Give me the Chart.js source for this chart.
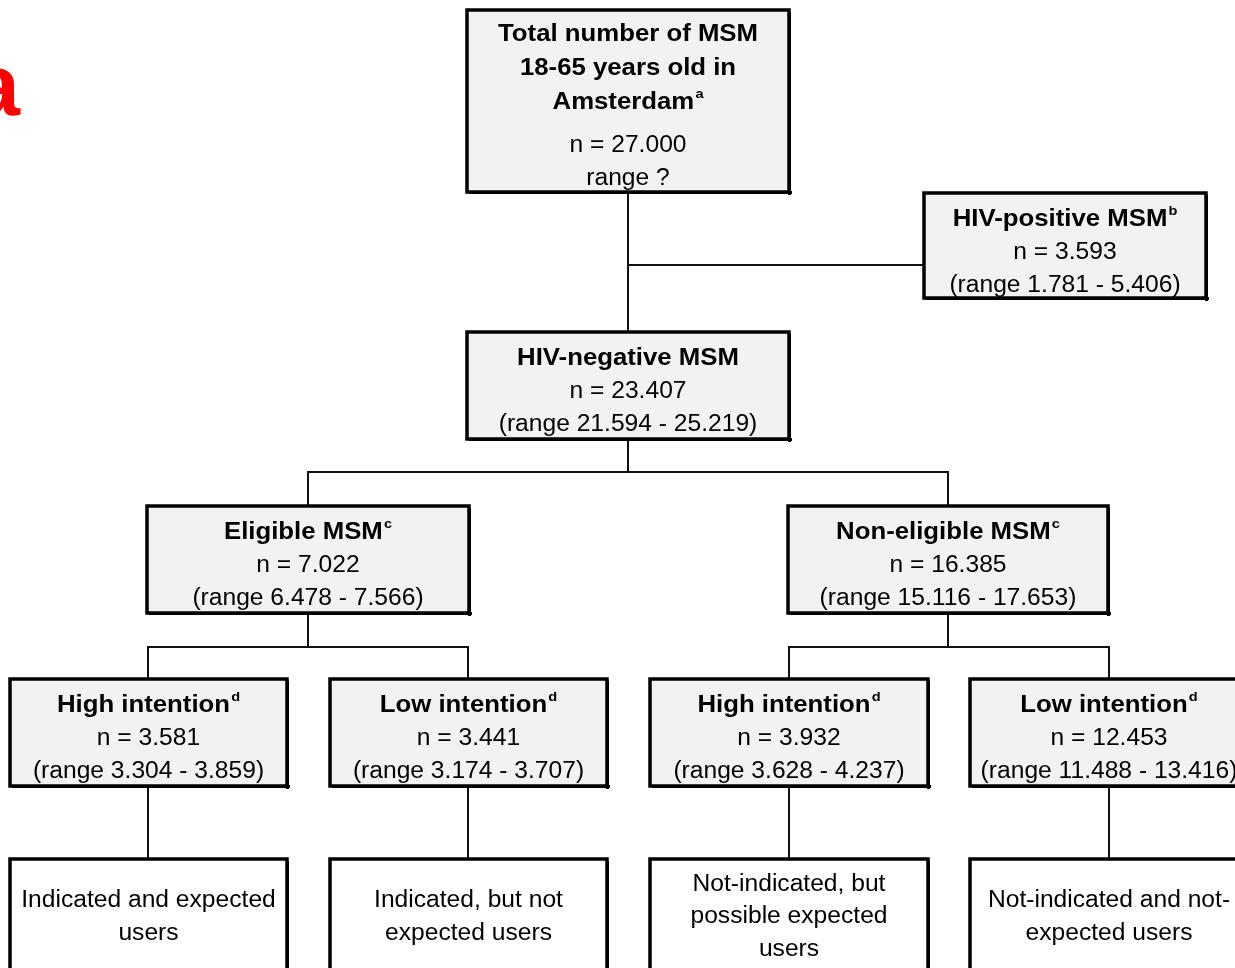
<!DOCTYPE html>
<html>
<head>
<meta charset="utf-8">
<script src="https://cdn.jsdelivr.net/npm/chart.js@4.4.1/dist/chart.umd.min.js"></script>
<style>
html, body { margin: 0; padding: 0; background: #fff; overflow: hidden; }
#wrap { width: 1235px; height: 968px; }
</style>
</head>
<body>
<div id="wrap"><canvas id="flow" width="1235" height="968"></canvas></div>
<script>
// flowchart content
var titles = ["Total number of MSM|18-65 years old in|Amsterdam", "HIV-positive MSM", "HIV-negative MSM",
	"Eligible MSM", "Non-eligible MSM", "High intention", "Low intention", "High intention", "Low intention"];
var notes = ["a", "b", "", "c", "c", "d", "d", "d", "d"];
var counts = ["27.000", "3.593", "23.407", "7.022", "16.385", "3.581", "3.441", "3.932", "12.453"];
var ranges = ["range ?", "(range 1.781 - 5.406)", "(range 21.594 - 25.219)", "(range 6.478 - 7.566)",
	"(range 15.116 - 17.653)", "(range 3.304 - 3.859)", "(range 3.174 - 3.707)", "(range 3.628 - 4.237)",
	"(range 11.488 - 13.416)"];
var outcomes = ["Indicated and expected|users", "Indicated, but not|expected users",
	"Not-indicated, but|possible expected|users", "Not-indicated and not-|expected users"];

// layout in axis units (x 0..1235, y 0..968 top-down)
var boxes = [
	[467, 10, 789, 192], [924, 193, 1206, 298], [467, 332, 789, 439],
	[147, 506, 469, 613], [788, 506, 1108, 613],
	[10, 679, 287, 786], [330, 679, 607, 786], [650, 679, 928, 786], [970, 679, 1248, 786]
];
var outBoxes = [[10, 859, 287, 980], [330, 859, 607, 980], [650, 859, 928, 980], [970, 859, 1248, 980]];
var links = [
	[[628, 192], [628, 332]], [[628, 265], [924, 265]], [[628, 439], [628, 472]],
	[[308, 506], [308, 472], [948, 472], [948, 506]],
	[[308, 613], [308, 647]], [[148, 679], [148, 647], [468, 647], [468, 679]],
	[[948, 613], [948, 647]], [[789, 679], [789, 647], [1109, 647], [1109, 679]],
	[[148, 786], [148, 859]], [[468, 786], [468, 859]], [[789, 786], [789, 859]], [[1109, 786], [1109, 859]]
];

var FONT = '"Liberation Sans", Arial, sans-serif';
var SIZE = 23;

function drawText(ctx, txt, x, y, bold, sup) {
	ctx.save();
	ctx.translate(x, y);
	ctx.scale(bold ? 1.12 : 1.07, 1);
	var main = (bold ? 'bold ' : '') + SIZE + 'px ' + FONT;
	var supFont = 'bold 13px ' + FONT;
	ctx.font = main;
	var w = ctx.measureText(txt).width;
	var sw = 0;
	if (sup) {
		ctx.font = supFont;
		sw = ctx.measureText(sup).width + 1;
	}
	var left = -(w + sw) / 2;
	ctx.textAlign = 'left';
	ctx.textBaseline = 'middle';
	ctx.font = main;
	ctx.fillText(txt, left, 0);
	if (sup) {
		ctx.font = supFont;
		ctx.fillText(sup, left + w + 1, -9);
	}
	ctx.restore();
}

var flowPlugin = {
	id: 'flow',
	afterDatasetsDraw: function (chart) {
		var ctx = chart.ctx;
		var sx = chart.scales.x, sy = chart.scales.y;
		function X(v) { return sx.getPixelForValue(v); }
		function Y(v) { return sy.getPixelForValue(v); }
		ctx.save();

		// connectors
		ctx.strokeStyle = '#111';
		ctx.lineWidth = 2;
		links.forEach(function (pts) {
			ctx.beginPath();
			pts.forEach(function (p, i) {
				if (i === 0) ctx.moveTo(X(p[0]), Y(p[1]));
				else ctx.lineTo(X(p[0]), Y(p[1]));
			});
			ctx.stroke();
		});

		function box(r, fill) {
			var x0 = X(r[0]), y0 = Y(r[1]), x1 = X(r[2]), y1 = Y(r[3]);
			ctx.fillStyle = fill;
			ctx.fillRect(x0, y0, x1 - x0, y1 - y0);
			ctx.fillStyle = '#000';
			ctx.fillRect(x1 - 1, y0 + 2, 3, y1 - y0 + 1);
			ctx.fillRect(x0 + 2, y1 - 1, x1 - x0 + 1, 3);
			ctx.strokeStyle = '#000';
			ctx.lineWidth = 3.5;
			ctx.strokeRect(x0, y0, x1 - x0, y1 - y0);
		}

		// statistic boxes
		boxes.forEach(function (r, i) {
			box(r, '#f2f2f2');
			ctx.fillStyle = '#000';
			var cx = X((r[0] + r[2]) / 2);
			var lines = titles[i].split('|');
			var multi = lines.length > 1;
			var y = Y(r[1]) + (multi ? 25 : 27);
			lines.forEach(function (t, k) {
				drawText(ctx, t, cx, y, true, k === lines.length - 1 ? notes[i] : '');
				y += multi ? 34 : 33;
			});
			if (multi) y += 9;
			drawText(ctx, 'n = ' + counts[i], cx, y, false, '');
			y += 33;
			drawText(ctx, ranges[i], cx, y, false, '');
		});

		// outcome boxes
		outBoxes.forEach(function (r, i) {
			box(r, '#ffffff');
			ctx.fillStyle = '#000';
			var cx = X((r[0] + r[2]) / 2);
			var lines = outcomes[i].split('|');
			var y = Y(917) - (lines.length - 1) * 32.5 / 2;
			lines.forEach(function (t) {
				drawText(ctx, t, cx, y, false, '');
				y += 32.5;
			});
		});

		// panel letter
		ctx.fillStyle = '#ff0000';
		ctx.font = 'bold 88px ' + FONT;
		ctx.textAlign = 'right';
		ctx.textBaseline = 'alphabetic';
		ctx.fillText('a', X(20), Y(115));
		ctx.restore();
	}
};

var ctx = document.getElementById('flow');
var flow = new Chart(ctx, {
	type: 'scatter',
	data: {
		datasets: [{
			label: 'nodes',
			data: boxes.map(function (r, i) { return { x: (r[0] + r[2]) / 2, y: (r[1] + r[3]) / 2, n: counts[i] }; }),
			pointRadius: 0
		}]
	},
	options: {
		responsive: false,
		animation: false,
		devicePixelRatio: 1,
		layout: { padding: 0 },
		scales: {
			x: { type: 'linear', min: 0, max: 1235, display: false },
			y: { type: 'linear', min: 0, max: 968, reverse: true, display: false }
		},
		plugins: { legend: { display: false }, tooltip: { enabled: false } }
	},
	plugins: [flowPlugin]
});
</script>
</body>
</html>
